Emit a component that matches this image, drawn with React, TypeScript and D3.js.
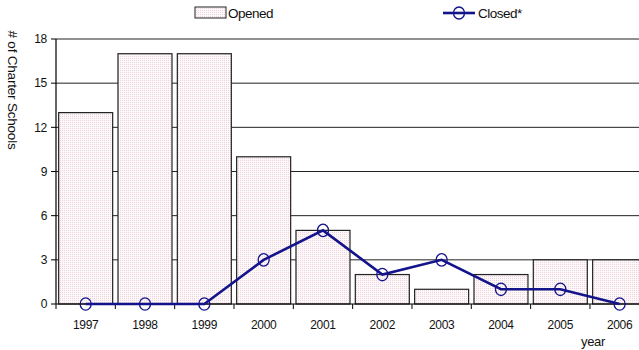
import React from "react";
import * as d3 from "d3";

const years = ["1997","1998","1999","2000","2001","2002","2003","2004","2005","2006"];
const opened = [13,17,17,10,5,2,1,2,3,3];
const closed = [0,0,0,3,5,2,3,1,1,0];
const yTicks = [0,3,6,9,12,15,18];

export default function App() {
  const W = 639, H = 350;
  const left = 56, step = 59.33;
  const x = d3.scaleBand().domain(years).range([left, left + step * years.length]).paddingInner(0.09).paddingOuter(0.045);
  const y = d3.scaleLinear().domain([0, 18]).range([304, 39]);
  const line = d3.line<number>().x((_, i) => (x(years[i]) as number) + x.bandwidth() / 2).y(d => y(d));
  const font = "'Liberation Sans', Arial, sans-serif";
  return (
    <svg width={W} height={H} style={{ position: "absolute", left: 0, top: 0 }} fontFamily={font}>
      <defs>
        <pattern id="dots" width="2" height="2" patternUnits="userSpaceOnUse">
          <rect width="2" height="2" fill="#fdf8f9" />
          <rect width="1" height="1" fill="#efd3da" />
        </pattern>
      </defs>
      {/* gridlines */}
      {yTicks.filter(t => t > 0).map(t => (
        <line key={t} x1={left} x2={W} y1={y(t)} y2={y(t)} stroke="#222" strokeWidth={1} />
      ))}
      {/* bars */}
      {opened.map((v, i) => (
        <rect key={i} x={x(years[i])} y={y(v)} width={x.bandwidth()} height={y(0) - y(v)}
          fill="url(#dots)" stroke="#222" strokeWidth={1.2} />
      ))}
      {/* axes */}
      <line x1={left} x2={left} y1={y(18)} y2={y(0)} stroke="#000" strokeWidth={1.2} />
      <line x1={left} x2={W} y1={y(0)} y2={y(0)} stroke="#000" strokeWidth={1.2} />
      {yTicks.map(t => (
        <g key={t}>
          <line x1={left - 5} x2={left} y1={y(t)} y2={y(t)} stroke="#000" />
          <text x={left - 9} y={y(t)} dy="0.35em" textAnchor="end" fontSize={12} fill="#111" letterSpacing={-0.3}>{t}</text>
        </g>
      ))}
      {years.map((yr, i) => (
        <g key={yr}>
          <line x1={left + step * i} x2={left + step * i} y1={y(0)} y2={y(0) + 5} stroke="#000" />
          <text x={(x(yr) as number) + x.bandwidth() / 2} y={329} textAnchor="middle" fontSize={12} fill="#111" letterSpacing={-0.3}>{yr}</text>
        </g>
      ))}
      {/* line */}
      <path d={line(closed) as string} fill="none" stroke="#13138c" strokeWidth={2.6} />
      {closed.map((v, i) => (
        <ellipse key={i} cx={(x(years[i]) as number) + x.bandwidth() / 2} cy={y(v)} rx={5.5} ry={6.2}
          fill="none" stroke="#13138c" strokeWidth={1.3} />
      ))}
      {/* labels */}
      <text transform="translate(8,90) rotate(90)" textAnchor="middle" fontSize={13.5} fill="#111" letterSpacing={-0.2}>
        # of Charter Schools
      </text>
      <text x={593} y={346} textAnchor="middle" fontSize={13} fill="#111" letterSpacing={-0.3}>year</text>
      {/* legend */}
      <rect x={195} y={7} width={31} height={11} fill="url(#dots)" stroke="#222" strokeWidth={1} />
      <text x={228} y={17.5} fontSize={13.5} fill="#111" letterSpacing={-0.5}>Opened</text>
      <line x1={443} x2={475} y1={13} y2={13} stroke="#13138c" strokeWidth={2.6} />
      <ellipse cx={459} cy={13} rx={5.5} ry={6} fill="none" stroke="#13138c" strokeWidth={1.3} />
      <text x={478} y={17.5} fontSize={13.5} fill="#111" letterSpacing={-0.5}>Closed*</text>
    </svg>
  );
}
